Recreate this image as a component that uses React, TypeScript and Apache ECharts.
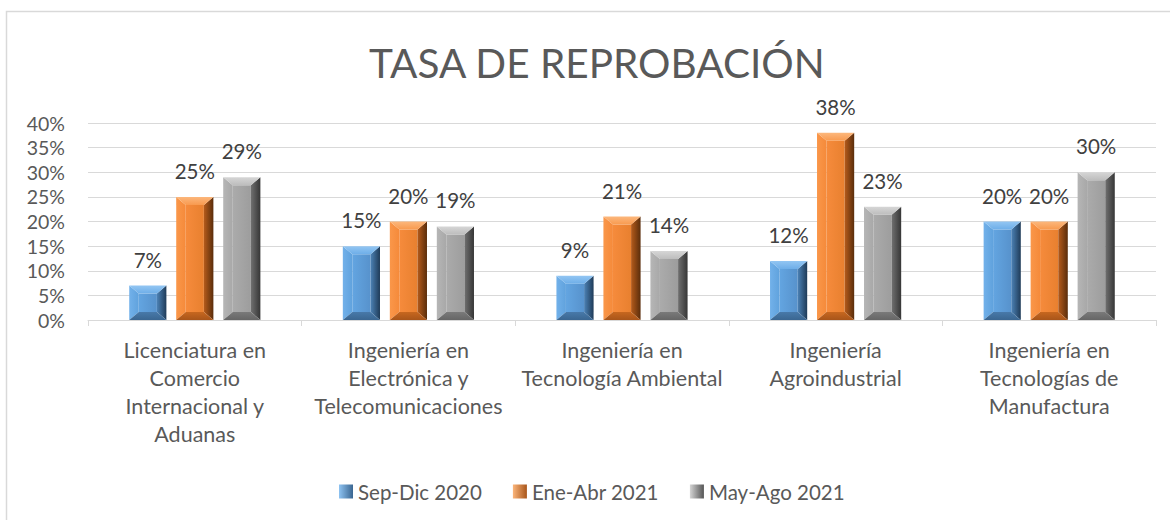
import React, { useEffect, useRef } from "react";
import * as echarts from "echarts";

const categories = [
  "Licenciatura en\nComercio\nInternacional y\nAduanas",
  "Ingeniería en\nElectrónica y\nTelecomunicaciones",
  "Ingeniería en\nTecnología Ambiental",
  "Ingeniería\nAgroindustrial",
  "Ingeniería en\nTecnologías de\nManufactura",
];
const seriesNames = ["Sep-Dic 2020", "Ene-Abr 2021", "May-Ago 2021"];
const sepDic2020 = [7, 15, 9, 12, 20];
const eneAbr2021 = [25, 20, 21, 38, 20];
const mayAgo2021 = [29, 19, 14, 23, 30];
const yTicks = { min: 0, max: 40, interval: 5 };

const FONT = "Lato, 'Open Sans', sans-serif";

const palettes = [
  {
    top: ["#93C6F3", "#6EAEE8"],
    left: ["#72B1EA", "#60A2DD"],
    center: ["#63A5E1", "#5792CC"],
    right: ["#4C82B6", "#1F3B58"],
    bottom: ["#4879A9", "#3A6691"],
    legend: ["#8EC3F2", "#3A6691"],
  },
  {
    top: ["#FCB77C", "#F89A4F"],
    left: ["#FA974A", "#F58A3A"],
    center: ["#F68B3C", "#E8802F"],
    right: ["#B55B1B", "#5A2D0B"],
    bottom: ["#C7671F", "#A8551A"],
    legend: ["#FBB57A", "#A8551A"],
  },
  {
    top: ["#D6D6D6", "#BDBDBD"],
    left: ["#B6B6B6", "#A8A8A8"],
    center: ["#ABABAB", "#9D9D9D"],
    right: ["#707070", "#363636"],
    bottom: ["#7A7A7A", "#666666"],
    legend: ["#D4D4D4", "#555555"],
  },
];

const grad = (c: string[], vertical: boolean) => ({
  type: "linear",
  x: 0,
  y: 0,
  x2: vertical ? 0 : 1,
  y2: vertical ? 1 : 0,
  colorStops: [
    { offset: 0, color: c[0] },
    { offset: 1, color: c[1] },
  ],
});

function makeRender(sIdx: number) {
  const p = palettes[sIdx];
  return (params: any, api: any) => {
    const ci = api.value(0);
    const v = api.value(1);
    const top = api.coord([ci, v]);
    const base = api.coord([ci, 0]);
    const band = api.size([1, 0])[0];
    const w = band * 0.174;
    const g = band * 0.046;
    const cx = top[0] + (sIdx - 1) * (w + g);
    const x = cx - w / 2;
    const y = top[1];
    const h = base[1] - top[1];
    const bx = Math.min(9.5, w / 2);
    const by = Math.min(8, h / 2);
    return {
      type: "group",
      children: [
        {
          type: "rect",
          shape: { x: x + bx, y: y + by, width: w - 2 * bx, height: h - 2 * by },
          style: { fill: grad(p.center, false) },
        },
        {
          type: "polygon",
          shape: { points: [[x, y + h], [x + bx, y + h - by], [x + bx, y + by], [x, y]] },
          style: { fill: grad(p.left, false) },
        },
        {
          type: "polygon",
          shape: { points: [[x + w - bx, y + by], [x + w - bx, y + h - by], [x + w, y + h], [x + w, y]] },
          style: { fill: grad(p.right, false) },
        },
        {
          type: "polygon",
          shape: { points: [[x, y], [x + w, y], [x + w - bx, y + by], [x + bx, y + by]] },
          style: { fill: grad(p.top, true) },
        },
        {
          type: "polygon",
          shape: { points: [[x + bx, y + h - by], [x + w - bx, y + h - by], [x + w, y + h], [x, y + h]] },
          style: { fill: grad(p.bottom, true) },
        },
        {
          type: "text",
          style: {
            text: v + "%",
            x: cx,
            y: y - 26,
            align: "center",
            verticalAlign: "middle",
            fontSize: 20.5,
            fontFamily: FONT,
            fill: "#404040",
          },
        },
      ],
    };
  };
}

export default function App() {
  const ref = useRef<HTMLDivElement>(null);
  useEffect(() => {
    if (!ref.current) return;
    const chart = echarts.init(ref.current, null, { renderer: "svg" });
    const all = [sepDic2020, eneAbr2021, mayAgo2021];
    chart.setOption({
      animation: false,
      backgroundColor: "#FFFFFF",
      textStyle: { fontFamily: FONT },
      title: {
        text: "TASA DE REPROBACIÓN",
        left: 364,
        top: 37,
        textStyle: { fontSize: 40.5, fontWeight: "normal", color: "#595959", fontFamily: FONT },
      },
      graphic: [
        {
          type: "rect",
          shape: { x: 6.5, y: 11.5, width: 1300, height: 700 },
          style: { fill: "none", stroke: "#D9D9D9", lineWidth: 1.5 },
          silent: true,
        },
      ],
      legend: {
        data: seriesNames.map((n) => ({ name: n, icon: "rect" })),
        left: 334,
        top: 476,
        itemWidth: 14,
        itemHeight: 14,
        itemGap: 31,
        textStyle: { fontSize: 20.5, color: "#595959", fontFamily: FONT },
      },
      grid: { left: 88, right: 14, top: 123, bottom: 200 },
      xAxis: {
        type: "category",
        data: categories,
        axisLine: { lineStyle: { color: "#D9D9D9", width: 1 } },
        axisTick: { show: true, length: 6, lineStyle: { color: "#D9D9D9" } },
        axisLabel: {
          fontSize: 21.5,
          lineHeight: 28,
          color: "#595959",
          margin: 16,
          interval: 0,
          fontFamily: FONT,
        },
      },
      yAxis: {
        type: "value",
        min: yTicks.min,
        max: yTicks.max,
        interval: yTicks.interval,
        axisLine: { show: false },
        axisTick: { show: false },
        splitLine: { lineStyle: { color: "#D9D9D9", width: 1 } },
        axisLabel: {
          formatter: "{value}%",
          fontSize: 19.5,
          color: "#595959",
          margin: 23,
          fontFamily: FONT,
        },
      },
      series: all.map((vals, s) => ({
        type: "custom",
        name: seriesNames[s],
        coordinateSystem: "cartesian2d",
        encode: { x: 0, y: 1 },
        data: vals.map((v, i) => [i, v]),
        itemStyle: { color: grad(palettes[s].legend, false) },
        renderItem: makeRender(s),
      })),
    });
    return () => chart.dispose();
  }, []);
  return (
    <div
      ref={ref}
      style={{ position: "fixed", left: 0, top: 0, width: 1170, height: 520 }}
    />
  );
}
